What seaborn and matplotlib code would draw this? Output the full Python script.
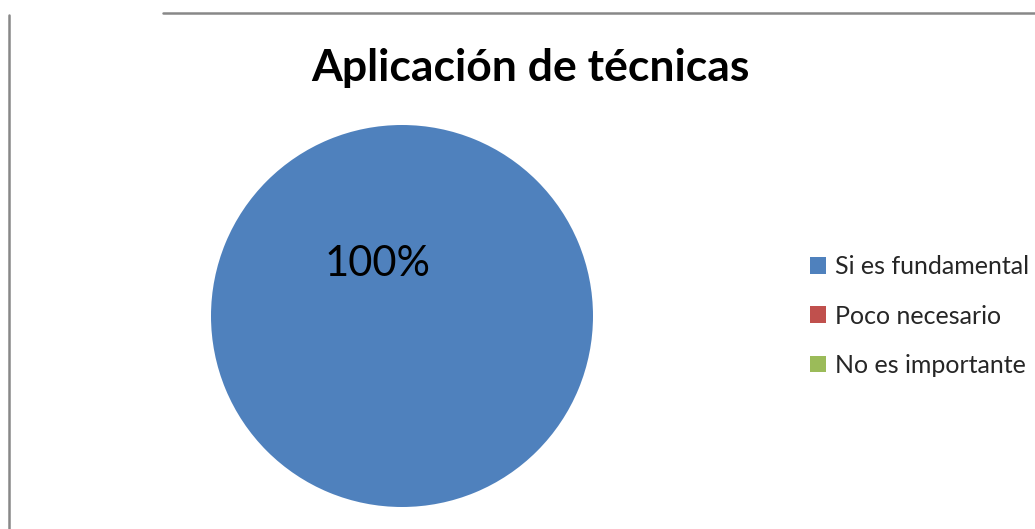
import matplotlib
matplotlib.use("Agg")
import matplotlib.pyplot as plt
from matplotlib.lines import Line2D
import seaborn as sns

categorias = ["Si es fundamental", "Poco necesario", "No es importante"]
valores = [100, 0, 0]
colores = ["#4F81BD", "#C0504D", "#9BBB59"]

sns.set_theme(style="white")
plt.rcParams["font.family"] = ["Lato", "DejaVu Sans"]

W, H = 1035, 529
fig = plt.figure(figsize=(W / 100, H / 100), dpi=100)

# ejes del pastel: centro (402, 316) px, radio 191 px
cx, cy, r = 402, 316, 191
ax = fig.add_axes([(cx - r) / W, (H - cy - r) / H, 2 * r / W, 2 * r / H])


def etiqueta(pct):
    return f"{pct:.0f}%" if pct > 0 else ""


wedges, textos, autotextos = ax.pie(
    valores, colors=colores, startangle=-65, autopct=etiqueta,
    pctdistance=0.3, textprops={"fontsize": 30, "color": "black"},
    wedgeprops={"linewidth": 0},
)
ax.set_xlim(-1, 1)
ax.set_ylim(-1, 1)
ax.set_aspect("equal")

fig.text(530 / W, 1 - 68 / H, "Aplicación de técnicas", ha="center", va="center",
         fontsize=32, fontweight="bold", color="black")

fig.legend(wedges, categorias, loc="center left", bbox_to_anchor=(800 / W, 1 - 316 / H),
           frameon=False, fontsize=18, handlelength=0.65, handleheight=0.65,
           handletextpad=0.35, labelspacing=1.05, borderaxespad=0)

gris = "#888888"
fig.add_artist(Line2D([163 / W, 1], [1 - 12.5 / H] * 2, color=gris, lw=1.8,
                      transform=fig.transFigure))
fig.add_artist(Line2D([8.5 / W] * 2, [0, 1 - 15 / H], color=gris, lw=1.8,
                      transform=fig.transFigure))

fig.savefig("out.png", dpi=100)
